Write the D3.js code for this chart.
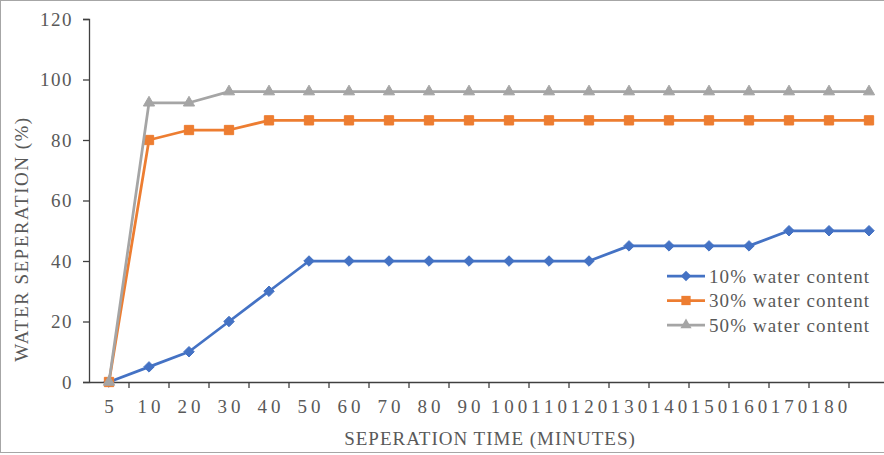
<!DOCTYPE html>
<html>
<head>
<meta charset="utf-8">
<script src="https://cdn.jsdelivr.net/npm/d3@7"></script>
<style>
  body { margin: 0; background: #fff; }
  svg text { font-family: "Liberation Serif", "Tinos", "Times New Roman", Times, "DejaVu Serif", serif; }
</style>
</head>
<body>
<script>
// categories on the x axis (last one has no label in the original)
var times = ["5", "10", "20", "30", "40", "50", "60", "70", "80", "90",
  "100", "110", "120", "130", "140", "150", "160", "170", "180", ""];
var water10 = [0, 5, 10, 20, 30, 40, 40, 40, 40, 40, 40, 40, 40, 45, 45, 45, 45, 50, 50, 50];
var water30 = [0, 80, 83.3, 83.3, 86.5, 86.5, 86.5, 86.5, 86.5, 86.5, 86.5, 86.5, 86.5, 86.5, 86.5, 86.5, 86.5, 86.5, 86.5, 86.5];
var water50 = [0, 92.3, 92.3, 96, 96, 96, 96, 96, 96, 96, 96, 96, 96, 96, 96, 96, 96, 96, 96, 96];
var seriesNames = ["10% water content", "30% water content", "50% water content"];
var yTicks = [0, 20, 40, 60, 80, 100, 120];

var width = 884, height = 455;
var textColor = "#595959";
var series = [
  { name: seriesNames[0], values: water10, color: "#4472c4", symbol: d3.symbolDiamond2, size: 70 },
  { name: seriesNames[1], values: water30, color: "#ed7d31", symbol: d3.symbolSquare2, size: 110 },
  { name: seriesNames[2], values: water50, color: "#a5a5a5", symbol: d3.symbolTriangle2, size: 90 }
];

var svg = d3.select("body").append("svg")
  .attr("width", width)
  .attr("height", height)
  .style("display", "block");

// chart border
svg.append("rect")
  .attr("x", 0.5).attr("y", 0.5)
  .attr("width", width + 20).attr("height", height - 3)
  .attr("fill", "#fff")
  .attr("stroke", "#a6a6a6");

var x = d3.scaleBand()
  .domain(d3.range(times.length))
  .range([89, 889])
  .padding(0);
var y = d3.scaleLinear()
  .domain([0, 120])
  .range([382, 19]);

// y axis
var yAxis = svg.append("g")
  .attr("transform", "translate(89,0)")
  .call(d3.axisLeft(y).tickValues(yTicks).tickSize(6).tickPadding(10))
  .attr("font-family", null)
  .attr("font-size", null);
yAxis.select(".domain").attr("stroke", "#404040").attr("stroke-width", 1.3);
yAxis.selectAll(".tick line").attr("stroke", "#404040").attr("stroke-width", 1.3);
yAxis.selectAll(".tick text")
  .attr("fill", textColor)
  .style("font-size", "19px")
  .style("letter-spacing", "1.5px");

// x axis: ticks sit between categories, labels at category centres
var xAxis = svg.append("g")
  .attr("transform", "translate(0,382)")
  .call(d3.axisBottom(x).tickSize(0).tickPadding(18)
    .tickFormat(function (i) { return times[i]; }))
  .attr("font-family", null)
  .attr("font-size", null);
xAxis.select(".domain").attr("stroke", "#404040").attr("stroke-width", 1.3);
xAxis.selectAll(".tick text")
  .attr("fill", textColor)
  .style("font-size", "19px")
  .style("letter-spacing", "4px")
  .attr("dx", "2px");
xAxis.selectAll(".between")
  .data(d3.range(1, times.length + 1))
  .enter()
  .append("line")
  .attr("class", "between")
  .attr("x1", function (i) { return i < times.length ? x(i) : x.range()[1]; })
  .attr("x2", function (i) { return i < times.length ? x(i) : x.range()[1]; })
  .attr("y1", 0)
  .attr("y2", 6)
  .attr("stroke", "#404040")
  .attr("stroke-width", 1.3);

// axis titles
svg.append("text")
  .attr("x", 490).attr("y", 445)
  .attr("text-anchor", "middle")
  .attr("fill", textColor)
  .style("font-size", "19px")
  .style("letter-spacing", "1px")
  .text("SEPERATION TIME (MINUTES)");
svg.append("text")
  .attr("transform", "translate(28,239) rotate(-90)")
  .attr("text-anchor", "middle")
  .attr("fill", textColor)
  .style("font-size", "19px")
  .style("letter-spacing", "1.5px")
  .text("WATER SEPERATION (%)");

// lines and markers
var line = d3.line()
  .x(function (d, i) { return x(i) + x.bandwidth() / 2; })
  .y(function (d) { return y(d); });

series.forEach(function (s) {
  var g = svg.append("g");
  g.append("path")
    .datum(s.values)
    .attr("d", line)
    .attr("fill", "none")
    .attr("stroke", s.color)
    .attr("stroke-width", 2.75)
    .attr("stroke-linejoin", "round");
  g.selectAll("path.marker")
    .data(s.values)
    .enter()
    .append("path")
    .attr("class", "marker")
    .attr("d", d3.symbol().type(s.symbol).size(s.size))
    .attr("transform", function (d, i) {
      return "translate(" + (x(i) + x.bandwidth() / 2) + "," + y(d) + ")";
    })
    .attr("fill", s.color)
    .attr("stroke", s.color)
    .attr("stroke-width", 1);
});

// legend
var legend = svg.append("g").attr("transform", "translate(667,276)");
series.forEach(function (s, i) {
  var row = legend.append("g").attr("transform", "translate(0," + i * 24.5 + ")");
  row.append("line")
    .attr("x1", 0).attr("x2", 38)
    .attr("y1", 0).attr("y2", 0)
    .attr("stroke", s.color)
    .attr("stroke-width", 2.75);
  row.append("path")
    .attr("d", d3.symbol().type(s.symbol).size(s.size))
    .attr("transform", "translate(19,0)")
    .attr("fill", s.color);
  row.append("text")
    .attr("x", 42).attr("y", 6.5)
    .attr("fill", textColor)
    .style("font-size", "19px")
    .style("letter-spacing", "1.1px")
    .text(s.name);
});
</script>
</body>
</html>
